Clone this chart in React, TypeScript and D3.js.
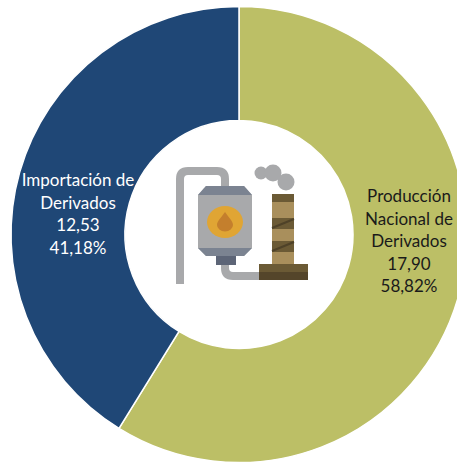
import React from 'react'
import * as d3 from 'd3';

const categories = ['Producción Nacional de Derivados', 'Importación de Derivados'];
const values = [17.90, 12.53];
const valueLabels = ['17,90', '12,53'];
const percentLabels = ['58,82%', '41,18%'];
const labelLines = [
    ['Producción', 'Nacional de', 'Derivados'],
    ['Importación de', 'Derivados'],
];
const colors = ['#bcbf66', '#1f4776'];
const textColors = ['#1a1a1a', '#ffffff'];

const width = 457;
const height = 463;
const cx = 239;
const cy = 234.5;
const outerRadius = 228;
const innerRadius = 114;
const lineHeight = 22.6;
// top baseline and centre of each label block
const labelPos = [{x: 409, y: 202}, {x: 78, y: 186}];

function Icon(){
    const grey = '#a8a9ab';
    const steel = '#7b8391';
    const brown = '#6b5a35';
    const tan = '#a98f5c';
    return (
        <g>
            <path d="M180,284V179Q180,171 188,171H217Q225,171 225,179V190" fill="none" stroke={grey} strokeWidth={8}/>
            <path d="M225,262V268Q225,276 233,276H262" fill="none" stroke={grey} strokeWidth={8}/>
            <polygon points="198,195 206,186 244,186 252,195 252,248 244,256 206,256 198,248" fill={grey}/>
            <polygon points="198,195 206,186 244,186 252,195" fill={steel}/>
            <polygon points="198,248 252,248 244,256 206,256" fill={steel}/>
            <rect x={216} y={256} width={20} height={9} fill="#5d6577"/>
            <ellipse cx={225} cy={222} rx={18} ry={16} fill="#e0a534"/>
            <path d="M225,212C229,218 233,221 233,225A8,6.5 0 0 1 217,225C217,221 221,218 225,212Z" fill="#c47f2d"/>
            <circle cx={261} cy={173} r={6.5} fill={grey}/>
            <circle cx={273} cy={173} r={8.5} fill={grey}/>
            <circle cx={286} cy={182} r={8.5} fill={grey}/>
            <rect x={272} y={194} width={22} height={70} fill={tan}/>
            <rect x={272} y={194} width={22} height={8} fill={brown}/>
            <rect x={272} y={218} width={22} height={11} fill={brown}/>
            <rect x={272} y={241} width={22} height={11} fill={brown}/>
            <path d="M272,228L294,219M272,251L294,242" stroke="#4f4228" strokeWidth={2}/>
            <rect x={259} y={264} width={49} height={8} fill={brown}/>
            <rect x={259} y={272} width={49} height={8} fill="#54452a"/>
        </g>
    );
}

export default function App(){
    const pie = d3.pie<number>().sort(null).value(d => d);
    const arc = d3.arc<d3.PieArcDatum<number>>()
        .innerRadius(innerRadius)
        .outerRadius(outerRadius);
    const slices = pie(values);

    return (
        <svg
            width={width}
            height={height}
            style={{position: 'absolute', left: 0, top: 0, background: '#fff'}}
            fontFamily="Lato, 'Open Sans', sans-serif"
            fontSize={17}
        >
            <g transform={`translate(${cx},${cy})`}>
                {slices.map((s, i) => (
                    <path key={categories[i]} d={arc(s) ?? ''} fill={colors[i]} stroke="#fff" strokeWidth={1.5}/>
                ))}
            </g>
            {categories.map((c, i) => {
                const lines = [...labelLines[i], valueLabels[i], percentLabels[i]];
                return (
                    <text key={c} textAnchor="middle" fill={textColors[i]}>
                        {lines.map((l, j) => (
                            <tspan key={j} x={labelPos[i].x} y={labelPos[i].y + j * lineHeight}>{l}</tspan>
                        ))}
                    </text>
                );
            })}
            <Icon/>
        </svg>
    );
}
